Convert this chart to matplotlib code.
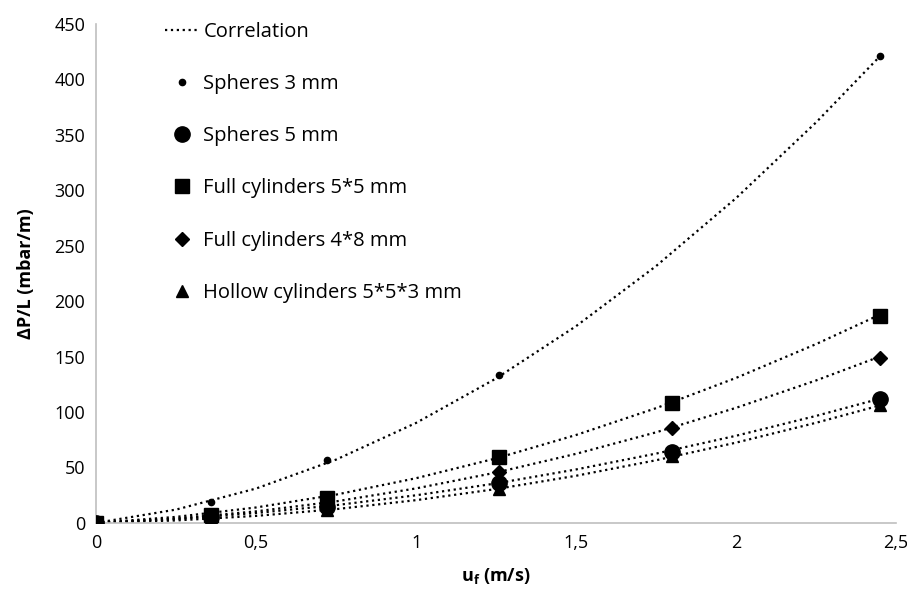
import numpy as np
import matplotlib.pyplot as plt
from matplotlib.lines import Line2D

plt.rcParams['font.family'] = ['Open Sans', 'DejaVu Sans']

# measured points
u_meas = [0, 0.36, 0.72, 1.26, 1.8, 2.45]
u_s3 = [0, 0.36, 0.72, 1.26, 2.45]
dp_s3 = [0, 19, 57, 133, 421]
dp_s5 = [0, 5, 14, 36, 64, 112]
dp_c55 = [0, 7, 22, 59, 108, 187]
dp_c48 = [0, 5, 17, 46, 86, 149]
dp_h553 = [0, 4, 12, 31, 60, 106]

# correlation curves
u_corr = [0, 0.25, 0.5, 0.75, 1.0, 1.25, 1.5, 1.75, 2.0, 2.25, 2.45]
corr_s3 = [0, 12.0, 31.0, 57.1, 90.2, 130.3, 177.5, 231.7, 293.0, 361.3, 421.1]
corr_s5 = [0, 3.5, 8.9, 16.0, 24.9, 35.6, 48.2, 62.5, 78.6, 96.5, 112.1]
corr_c55 = [0, 5.4, 13.9, 25.5, 40.3, 58.2, 79.3, 103.5, 130.8, 161.3, 187.9]
corr_c48 = [0, 3.9, 10.4, 19.4, 31.1, 45.4, 62.3, 81.7, 103.8, 128.5, 150.1]
corr_h553 = [0, 2.2, 6.3, 12.4, 20.5, 30.5, 42.5, 56.5, 72.4, 90.3, 106.0]

fig = plt.figure(figsize=(9.07, 6.01), dpi=100)
ax = fig.add_axes([0.106, 0.130, 0.882, 0.830])

for c in [corr_s3, corr_s5, corr_c55, corr_c48, corr_h553]:
    ax.plot(u_corr, c, color='black', linestyle=':', linewidth=1.6, zorder=2)

ax.plot(u_s3, dp_s3, 'o', color='black', markersize=4.5, zorder=3)
ax.plot(u_meas, dp_s5, 'o', color='black', markersize=11, zorder=3)
ax.plot(u_meas, dp_c55, 's', color='black', markersize=10.5, zorder=3)
ax.plot(u_meas, dp_c48, 'D', color='black', markersize=7, zorder=3)
ax.plot(u_meas, dp_h553, '^', color='black', markersize=9, zorder=3)

ax.set_xlim(0, 2.5)
ax.set_ylim(0, 450)
ax.set_xticks([0, 0.5, 1, 1.5, 2, 2.5])
ax.set_xticklabels(['0', '0,5', '1', '1,5', '2', '2,5'])
ax.set_yticks(np.arange(0, 451, 50))
ax.tick_params(length=0, labelsize=13, pad=8)
for s in ['top', 'right']:
    ax.spines[s].set_visible(False)
for s in ['left', 'bottom']:
    ax.spines[s].set_color('#bfbfbf')
    ax.spines[s].set_linewidth(1.2)

ax.set_xlabel('u$_\\mathregular{f}$ (m/s)', fontsize=13, fontweight='bold', labelpad=10)
ax.set_ylabel('ΔP/L (mbar/m)', fontsize=13, fontweight='bold', labelpad=14)

handles = [
    Line2D([], [], color='black', linestyle=':', linewidth=1.6),
    Line2D([], [], marker='o', color='black', linestyle='none', markersize=4.5),
    Line2D([], [], marker='o', color='black', linestyle='none', markersize=11),
    Line2D([], [], marker='s', color='black', linestyle='none', markersize=10.5),
    Line2D([], [], marker='D', color='black', linestyle='none', markersize=7),
    Line2D([], [], marker='^', color='black', linestyle='none', markersize=9),
]
labels = ['Correlation', 'Spheres 3 mm', 'Spheres 5 mm', 'Full cylinders 5*5 mm',
          'Full cylinders 4*8 mm', 'Hollow cylinders 5*5*3 mm']
fig.legend(handles, labels, loc='upper left', bbox_to_anchor=(0.162, 0.994),
           frameon=False, fontsize=14.5, labelspacing=1.6, handlelength=1.65,
           handletextpad=0.25)

plt.savefig('out.png', dpi=100)
